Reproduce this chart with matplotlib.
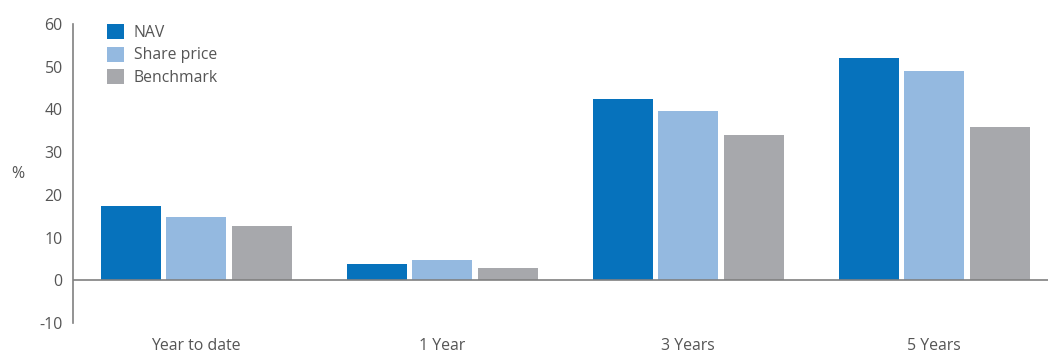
import numpy as np
import matplotlib.pyplot as plt
from matplotlib.patches import Patch

# Data
categories = ['Year to date', '1 Year', '3 Years', '5 Years']
nav = [17.3, 3.8, 42.4, 52.0]
share_price = [14.8, 4.7, 39.6, 49.0]
benchmark = [12.6, 2.8, 34.0, 35.8]
series_names = ['NAV', 'Share price', 'Benchmark']
y_ticks = [-10, 0, 10, 20, 30, 40, 50, 60]

colors = ['#0672BC', '#94B9E0', '#A7A8AC']
text_color = '#555555'

plt.rcParams['font.family'] = ['Open Sans', 'DejaVu Sans']
plt.rcParams['axes.unicode_minus'] = False

fig = plt.figure(figsize=(10.48, 3.54), dpi=100)
ax = fig.add_axes([0.0697, 0.0876, 0.9403, 0.8445])

x = np.arange(len(categories))
width = 0.244
step = 0.266
for i, vals in enumerate([nav, share_price, benchmark]):
    ax.bar(x + (i - 1) * step, vals, width=width, color=colors[i], label=series_names[i], zorder=2)

ax.axhline(0, color='#808080', linewidth=1.2, zorder=3)

ax.set_xlim(-0.5, 3.505)
ax.set_ylim(-10, 60)
ax.set_yticks(y_ticks)
ax.set_xticks(x)
ax.set_xticklabels(categories)
ax.tick_params(axis='both', length=0, labelsize=11.4, colors=text_color)
ax.tick_params(axis='y', pad=7.5)
ax.tick_params(axis='x', pad=10.5)

for side in ['top', 'right', 'bottom']:
    ax.spines[side].set_visible(False)
ax.spines['left'].set_color('#808080')
ax.spines['left'].set_linewidth(1.2)

fig.text(0.011, 0.508, '%', fontsize=11.4, color=text_color, ha='left', va='center')

handles = [Patch(facecolor=c, edgecolor='none') for c in colors]
leg = ax.legend(handles, series_names, loc='upper left', bbox_to_anchor=(0.028, 1.02),
                frameon=False, fontsize=11.3, handlelength=1.1, handleheight=1.1,
                handletextpad=0.6, labelspacing=0.34, borderaxespad=0)
for t in leg.get_texts():
    t.set_color(text_color)

fig.savefig('out.png', dpi=100)
